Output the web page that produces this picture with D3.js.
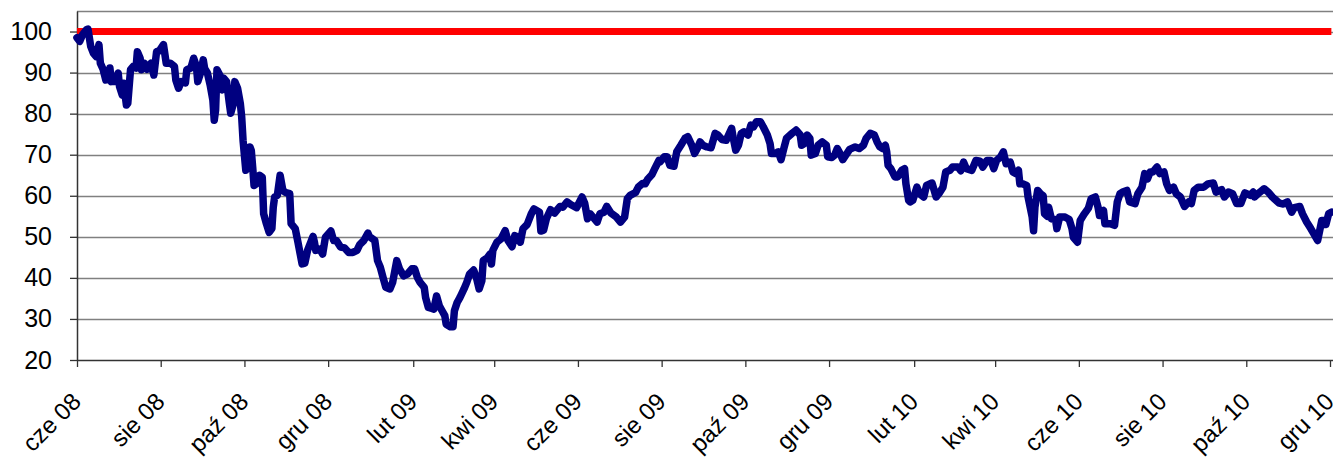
<!DOCTYPE html>
<html>
<head>
<meta charset="utf-8">
<script src="https://cdn.jsdelivr.net/npm/d3@7"></script>
<style>
  body { margin: 0; background: #fff; }
  svg { display: block; font-family: Arial, "Liberation Sans", sans-serif; }
</style>
</head>
<body>
<svg id="chart" width="1333" height="458"></svg>
<script>
// one line per month, dates and values kept in step
const dates = [
  "2008-06-01","2008-06-03","2008-06-05","2008-06-08","2008-06-09","2008-06-11","2008-06-13","2008-06-15","2008-06-17","2008-06-18","2008-06-20","2008-06-22","2008-06-24","2008-06-25","2008-06-26","2008-06-29",
  "2008-07-01","2008-07-02","2008-07-04","2008-07-05","2008-07-07","2008-07-08","2008-07-10","2008-07-12","2008-07-14","2008-07-15","2008-07-17","2008-07-18","2008-07-20","2008-07-22","2008-07-25","2008-07-27","2008-07-29","2008-07-31",
  "2008-08-03","2008-08-05","2008-08-08","2008-08-11","2008-08-12","2008-08-14","2008-08-16","2008-08-19","2008-08-20","2008-08-23","2008-08-25","2008-08-27","2008-08-28","2008-08-30",
  "2008-09-01","2008-09-02","2008-09-04","2008-09-06","2008-09-08","2008-09-09","2008-09-10","2008-09-11","2008-09-13","2008-09-15","2008-09-16","2008-09-18","2008-09-20","2008-09-21","2008-09-23","2008-09-24","2008-09-26","2008-09-28","2008-09-29","2008-09-30",
  "2008-10-02","2008-10-04","2008-10-05","2008-10-06","2008-10-07","2008-10-08","2008-10-10","2008-10-12","2008-10-14","2008-10-15","2008-10-17","2008-10-19","2008-10-21","2008-10-22","2008-10-23","2008-10-25","2008-10-27","2008-10-29","2008-10-31",
  "2008-11-03","2008-11-04","2008-11-07","2008-11-09","2008-11-12","2008-11-14","2008-11-16","2008-11-20","2008-11-21","2008-11-22","2008-11-25","2008-11-27","2008-11-29",
  "2008-12-03","2008-12-05","2008-12-07","2008-12-10","2008-12-13","2008-12-16","2008-12-19","2008-12-22","2008-12-24","2008-12-27","2008-12-30","2008-12-31",
  "2009-01-04","2009-01-06","2009-01-08","2009-01-10","2009-01-12","2009-01-15","2009-01-17","2009-01-20","2009-01-22","2009-01-25","2009-01-28","2009-01-31",
  "2009-02-02","2009-02-04","2009-02-06","2009-02-09","2009-02-10","2009-02-12","2009-02-14","2009-02-16","2009-02-18","2009-02-20","2009-02-22","2009-02-24","2009-02-25","2009-02-28",
  "2009-03-02","2009-03-03","2009-03-05","2009-03-07","2009-03-10","2009-03-12","2009-03-14","2009-03-17","2009-03-19","2009-03-21","2009-03-23","2009-03-24","2009-03-27","2009-03-29","2009-03-30","2009-03-31",
  "2009-04-03","2009-04-06","2009-04-09","2009-04-11","2009-04-14","2009-04-16","2009-04-18","2009-04-20","2009-04-22","2009-04-25","2009-04-28","2009-04-30",
  "2009-05-04","2009-05-05","2009-05-07","2009-05-09","2009-05-12","2009-05-15","2009-05-19","2009-05-21","2009-05-24","2009-05-27","2009-05-31",
  "2009-06-04","2009-06-06","2009-06-08","2009-06-10","2009-06-12","2009-06-15","2009-06-17","2009-06-20","2009-06-22","2009-06-25","2009-06-29",
  "2009-07-02","2009-07-05","2009-07-07","2009-07-09","2009-07-13","2009-07-15","2009-07-18","2009-07-20","2009-07-22","2009-07-25","2009-07-27","2009-07-30","2009-07-31",
  "2009-08-03","2009-08-05","2009-08-07","2009-08-10","2009-08-12","2009-08-15","2009-08-18","2009-08-20","2009-08-23","2009-08-25","2009-08-27","2009-08-29","2009-08-31",
  "2009-09-03","2009-09-06","2009-09-09","2009-09-11","2009-09-14","2009-09-17","2009-09-21","2009-09-22","2009-09-24","2009-09-26","2009-09-28","2009-09-30",
  "2009-10-03","2009-10-05","2009-10-07","2009-10-09","2009-10-12","2009-10-14","2009-10-17","2009-10-19","2009-10-20","2009-10-23","2009-10-25","2009-10-27","2009-10-29","2009-10-31",
  "2009-11-04","2009-11-07","2009-11-10","2009-11-11","2009-11-13","2009-11-15","2009-11-17","2009-11-18","2009-11-21","2009-11-23","2009-11-26","2009-11-29","2009-11-30",
  "2009-12-03","2009-12-05","2009-12-07","2009-12-09","2009-12-11","2009-12-14","2009-12-16","2009-12-20","2009-12-23","2009-12-26","2009-12-28","2009-12-31",
  "2010-01-03","2010-01-05","2010-01-07","2010-01-09","2010-01-11","2010-01-12","2010-01-13","2010-01-15","2010-01-18","2010-01-20","2010-01-23","2010-01-25","2010-01-26","2010-01-28","2010-01-29","2010-01-31",
  "2010-02-03","2010-02-05","2010-02-08","2010-02-10","2010-02-14","2010-02-15","2010-02-17","2010-02-19","2010-02-22","2010-02-24","2010-02-27",
  "2010-03-01","2010-03-05","2010-03-07","2010-03-09","2010-03-11","2010-03-15","2010-03-18","2010-03-21","2010-03-23","2010-03-26","2010-03-29","2010-03-31",
  "2010-04-02","2010-04-05","2010-04-07","2010-04-09","2010-04-12","2010-04-14","2010-04-16","2010-04-18","2010-04-19","2010-04-21","2010-04-24","2010-04-25","2010-04-28","2010-04-29","2010-04-30",
  "2010-05-02","2010-05-04","2010-05-06","2010-05-07","2010-05-09","2010-05-10","2010-05-12","2010-05-15","2010-05-16","2010-05-18","2010-05-22","2010-05-25","2010-05-27","2010-05-28","2010-05-31",
  "2010-06-02","2010-06-05","2010-06-08","2010-06-10","2010-06-13","2010-06-15","2010-06-16","2010-06-19","2010-06-20","2010-06-24","2010-06-27","2010-06-29",
  "2010-07-01","2010-07-03","2010-07-06","2010-07-08","2010-07-12","2010-07-14","2010-07-17","2010-07-19","2010-07-21","2010-07-23","2010-07-25","2010-07-28","2010-07-30",
  "2010-08-02","2010-08-04","2010-08-06","2010-08-09","2010-08-11","2010-08-14","2010-08-17","2010-08-20","2010-08-22","2010-08-24","2010-08-27","2010-08-31",
  "2010-09-03","2010-09-07","2010-09-09","2010-09-13","2010-09-15","2010-09-18","2010-09-21","2010-09-24","2010-09-27","2010-09-30",
  "2010-10-04","2010-10-06","2010-10-07","2010-10-11","2010-10-14","2010-10-17","2010-10-20","2010-10-25","2010-10-28","2010-10-31",
  "2010-11-03","2010-11-05","2010-11-09","2010-11-11","2010-11-14","2010-11-17","2010-11-20","2010-11-22","2010-11-25","2010-11-27","2010-11-28","2010-11-30",
  "2010-12-02"
];

const values = [
  98.5,97.6,99.2,100.5,100.6,96.4,94.7,93.9,96.8,92.3,90.8,88.2,88.5,91.1,87.8,87.9,
  89.9,86.6,84.5,87.4,82.1,82.5,90.7,91.5,91.1,95.1,93.5,90.7,92.3,90.8,92.3,89.4,95.1,95.3,
  96.8,92.3,92.3,91.5,88.2,86.2,87.8,87.5,90.7,91.1,93.5,91.5,87.8,89.9,
  93.1,91,89.9,87,83.3,78.4,80.9,90.7,89.4,85.8,88.6,87.8,82.5,80.1,82.5,87.8,86.2,82.5,79.2,73.5,
  66.2,68.7,71.9,71,67,62.5,63,65,64.5,55.6,53.2,51.1,52,57.2,59.7,60.1,65,61.3,60.8,
  60.5,53.2,52,48.7,43.4,43.6,46.7,50.1,48.7,46.7,47,45.8,49.9,
  51.4,49.1,49.1,47.5,47.3,46.2,46.2,46.7,48.1,49.1,50.9,50.1,
  49.1,44.2,42.6,40.1,37.7,37.3,38.9,44.2,42.2,40.5,41,42.2,
  42.2,40.1,38.9,37.7,35.2,32.8,32.6,32.4,35.6,33.2,32,30.8,28.7,28.1,
  28.1,32,34,35.2,37.3,38.9,40.9,41.9,40.1,37.3,39.3,44.2,44.9,45.8,43.4,46.7,
  48.7,49.5,51.5,49.1,47.6,50.3,50,48.7,52,53,55.6,56.8,
  56,51.4,51.6,54.4,56.6,55.8,57.4,57.2,58.5,57.8,57.1,
  59.7,58.1,54.4,55.6,54.8,53.6,55.6,56,57.4,55.8,54.8,
  53.6,54.8,59.3,60.1,60.8,62.1,63,62.9,64.1,65.2,66.6,68.6,68.3,
  69.5,69.5,67.4,67.2,70.7,72.3,74,74.4,72.3,70.3,71.5,73.1,72.3,
  71.9,71.7,75.2,74.8,73.7,73.5,76.4,74.4,71.1,72.3,75.2,75.6,
  74.8,77.2,76.8,78,78,76.8,74.8,72.7,70.3,70.3,70.7,68.8,71.5,74,
  75.2,76,74.8,72.3,72.7,74.8,74,69.9,70.3,72.3,73.1,72.3,69.5,
  69.3,69.9,71.5,70.3,68.8,70.3,71.3,71.9,71.5,72.3,74,75.2,
  74.8,73.1,71.9,71.5,72.3,70.7,67.4,66.6,64.6,64.6,66.2,66.6,62.9,58.9,58.5,58.9,
  62.1,60.5,59.7,62.5,63.1,62,59.7,60.5,62.1,65.8,66.2,
  67,67,66.1,68.2,66.6,66.2,68.6,68.4,67,68.6,68.6,66.6,
  68.6,69.5,70.7,67.8,68.2,65.8,65.4,66.2,62.9,62.9,62.5,59.7,54.8,51.5,57.2,
  61.3,60.5,60,55.6,55,57.2,54.4,54.2,52,54.8,54.8,54.2,52,49.9,48.7,
  54,55.6,57,59.3,59.7,57.2,55.2,56.4,53.2,53.2,52.8,58.5,
  60.5,60.9,61.3,58.5,58.1,60.5,62.1,65.4,64.1,65.8,65.8,67,65.4,
  65.8,62.9,61.3,62.1,60.5,59.7,57.4,58.5,58.1,61.3,62.1,62.1,
  62.9,63.1,60.9,61.5,59.7,60.9,60.5,58.1,58.1,60.7,
  60.1,60.9,59.7,60.9,61.7,60.9,59.7,58.2,58,58.5,
  56,57.1,57.4,55.6,53.6,52,50.3,49.1,54,54,53,55.6,
  56
];

const referenceLevel = 100;
const yTicks = [20, 30, 40, 50, 60, 70, 80, 90, 100];
const monthNames = ["sty", "lut", "mar", "kwi", "maj", "cze", "lip", "sie", "wrz", "paź", "lis", "gru"];

const width = 1333, height = 458;
const margin = { top: 11, right: 3, bottom: 98, left: 77 };
const parse = d3.timeParse("%Y-%m-%d");

const series = dates.map((d, i) => ({ date: parse(d), value: values[i] }));

const x = d3.scaleTime()
  .domain([parse("2008-06-01"), parse("2010-12-01")])
  .range([margin.left, 1330]);

const y = d3.scaleLinear()
  .domain([20, 105])
  .range([height - margin.bottom, margin.top]);

const svg = d3.select("#chart");

// horizontal grid + top border of the plot
svg.append("g")
  .selectAll("line")
  .data(yTicks.slice(1).concat([105]))
  .join("line")
  .attr("x1", margin.left)
  .attr("x2", width)
  .attr("y1", d => Math.round(y(d)) + 0.5)
  .attr("y2", d => Math.round(y(d)) + 0.5)
  .attr("stroke", "#808080")
  .attr("stroke-width", 1.3);

// y axis
const yAxis = svg.append("g")
  .attr("transform", `translate(${margin.left},0)`)
  .call(d3.axisLeft(y).tickValues(yTicks).tickSize(7).tickSizeOuter(0).tickPadding(18));
yAxis.select(".domain").attr("stroke", "#333").attr("stroke-width", 1.5);
yAxis.selectAll(".tick line").attr("stroke", "#333").attr("stroke-width", 1.3);
yAxis.selectAll(".tick text")
  .attr("font-size", 25)
  .attr("fill", "#000")
  .attr("font-family", "Arial, 'Liberation Sans', sans-serif");

// x axis
const evenMonths = d3.timeMonth.filter(d => d.getMonth() % 2 === 1);
const xAxis = svg.append("g")
  .attr("transform", `translate(0,${height - margin.bottom})`)
  .call(d3.axisBottom(x)
    .ticks(evenMonths)
    .tickSize(7)
    .tickSizeOuter(0)
    .tickFormat(d => monthNames[d.getMonth()] + " " + d3.timeFormat("%y")(d)));
xAxis.select(".domain").remove();
xAxis.append("line")
  .attr("x1", margin.left).attr("x2", width)
  .attr("y1", 0.5).attr("y2", 0.5)
  .attr("stroke", "#333").attr("stroke-width", 1.5);
xAxis.selectAll(".tick line").attr("stroke", "#333").attr("stroke-width", 1.3);
xAxis.selectAll(".tick text")
  .attr("x", 0).attr("y", 0).attr("dy", 0)
  .attr("text-anchor", "end")
  .attr("font-size", 24)
  .attr("fill", "#000")
  .attr("font-family", "Arial, 'Liberation Sans', sans-serif")
  .attr("transform", "translate(5,43) rotate(-45)");

const line = d3.line()
  .x(d => x(d.date))
  .y(d => y(d.value));

// reference level
const first = series[0].date, last = series[series.length - 1].date;
svg.append("path")
  .datum([{ date: first, value: referenceLevel }, { date: last, value: referenceLevel }])
  .attr("d", line)
  .attr("fill", "none")
  .attr("stroke", "#ff0000")
  .attr("stroke-width", 7);

// index series
svg.append("path")
  .datum(series)
  .attr("d", line)
  .attr("fill", "none")
  .attr("stroke", "#000080")
  .attr("stroke-width", 7.5)
  .attr("stroke-linejoin", "round")
  .attr("stroke-linecap", "round");
</script>
</body>
</html>
